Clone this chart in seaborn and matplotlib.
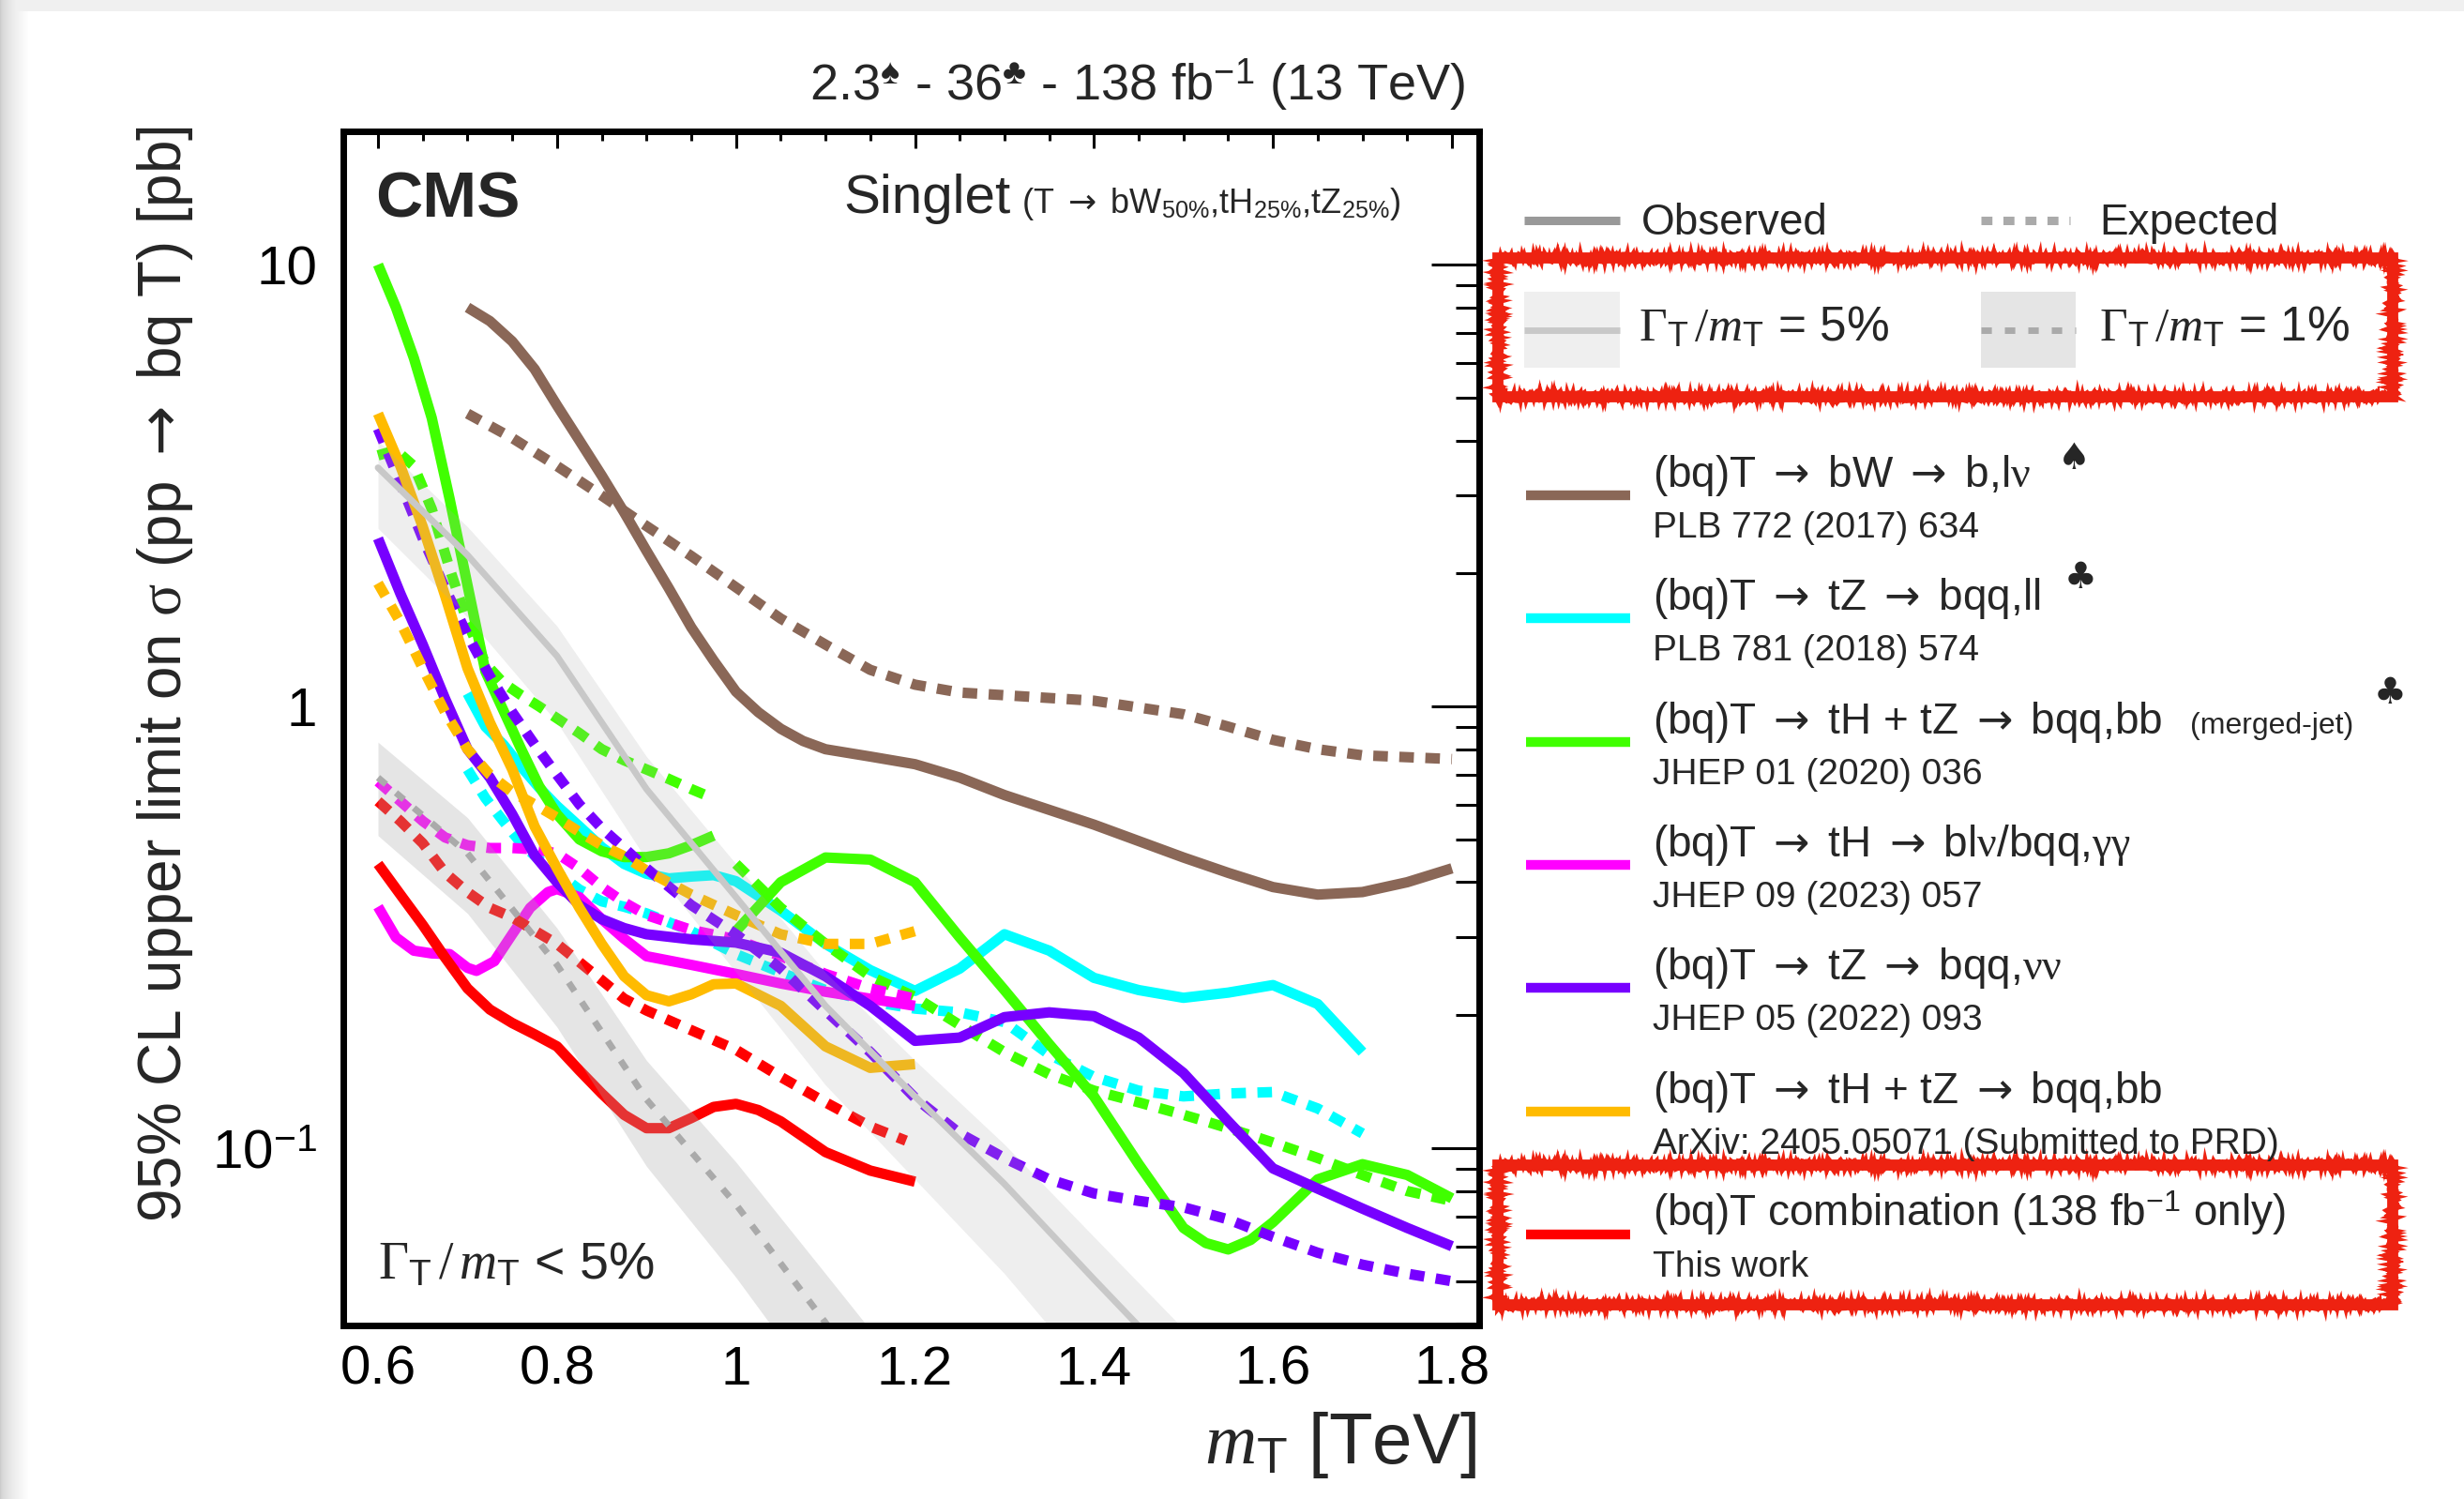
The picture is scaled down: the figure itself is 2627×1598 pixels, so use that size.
import numpy as np
import matplotlib
matplotlib.use("Agg")
import matplotlib.pyplot as plt
import seaborn as sns
from matplotlib.patches import Rectangle
from matplotlib.lines import Line2D
from matplotlib.transforms import Affine2D
from matplotlib.ticker import MultipleLocator, LogLocator, NullFormatter

# ---------------- limits on sigma(pp -> bq T) [pb] vs m_T [TeV] ----------------
# (bq)T -> bW -> b,l nu   (PLB 772 (2017) 634)
bw_obs_m = [0.70, 0.725, 0.75, 0.775, 0.80, 0.825, 0.85, 0.875, 0.90, 0.925, 0.95, 0.975, 1.00, 1.025, 1.05, 1.075, 1.10, 1.15, 1.20, 1.25, 1.30, 1.40, 1.50, 1.55, 1.60, 1.65, 1.70, 1.75, 1.80]
bw_obs = [8.0, 7.45, 6.7, 5.8, 4.8, 4.0, 3.33, 2.75, 2.25, 1.85, 1.51, 1.27, 1.08, 0.97, 0.89, 0.835, 0.80, 0.77, 0.74, 0.69, 0.63, 0.54, 0.455, 0.42, 0.39, 0.375, 0.38, 0.40, 0.43]
bw_exp_m = [0.70, 0.75, 0.80, 0.85, 0.90, 0.95, 1.00, 1.05, 1.10, 1.15, 1.20, 1.25, 1.30, 1.40, 1.50, 1.55, 1.60, 1.65, 1.70, 1.80]
bw_exp = [4.6, 4.05, 3.5, 3.0, 2.56, 2.19, 1.86, 1.58, 1.38, 1.21, 1.12, 1.075, 1.06, 1.03, 0.96, 0.90, 0.84, 0.80, 0.775, 0.76]

# (bq)T -> tZ -> bqq,ll   (PLB 781 (2018) 574)
tzll_obs_m = [0.70, 0.72, 0.74, 0.76, 0.78, 0.80, 0.825, 0.85, 0.875, 0.90, 0.925, 0.95, 0.975, 1.00, 1.05, 1.10, 1.15, 1.20, 1.25, 1.30, 1.35, 1.40, 1.45, 1.50, 1.55, 1.60, 1.65, 1.70]
tzll_obs = [1.07, 0.90, 0.82, 0.73, 0.655, 0.595, 0.535, 0.48, 0.44, 0.418, 0.408, 0.412, 0.415, 0.402, 0.345, 0.29, 0.253, 0.227, 0.255, 0.305, 0.28, 0.243, 0.228, 0.219, 0.225, 0.234, 0.212, 0.165]
tzll_exp_m = [0.70, 0.72, 0.74, 0.76, 0.78, 0.80, 0.825, 0.85, 0.875, 0.90, 0.95, 1.00, 1.05, 1.10, 1.15, 1.20, 1.25, 1.30, 1.35, 1.40, 1.45, 1.50, 1.55, 1.60, 1.65, 1.70]
tzll_exp = [0.72, 0.62, 0.55, 0.49, 0.45, 0.42, 0.385, 0.362, 0.352, 0.34, 0.31, 0.275, 0.25, 0.228, 0.215, 0.207, 0.203, 0.193, 0.163, 0.145, 0.135, 0.131, 0.133, 0.134, 0.123, 0.108]

# (bq)T -> tH + tZ -> bqq,bb merged-jet   (JHEP 01 (2020) 036), two mass ranges
mj_obs_lo_m = [0.60, 0.62, 0.64, 0.66, 0.68, 0.70, 0.72, 0.74, 0.76, 0.78, 0.80, 0.825, 0.85, 0.875, 0.90, 0.925, 0.95, 0.975]
mj_obs_lo = [10.0, 8.0, 6.15, 4.5, 2.95, 1.88, 1.2, 0.98, 0.80, 0.66, 0.57, 0.50, 0.47, 0.456, 0.456, 0.465, 0.485, 0.51]
mj_exp_lo_m = [0.60, 0.62, 0.64, 0.66, 0.68, 0.70, 0.72, 0.74, 0.76, 0.78, 0.80, 0.825, 0.85, 0.875, 0.90, 0.925, 0.95, 0.97]
mj_exp_lo = [3.7, 3.8, 3.5, 2.8, 2.05, 1.55, 1.25, 1.13, 1.06, 1.0, 0.94, 0.87, 0.80, 0.755, 0.72, 0.685, 0.65, 0.625]
mj_hi_m = [1.00, 1.05, 1.10, 1.15, 1.20, 1.25, 1.30, 1.35, 1.40, 1.45, 1.50, 1.525, 1.55, 1.575, 1.60, 1.65, 1.70, 1.75, 1.80]
mj_obs_hi = [0.31, 0.40, 0.455, 0.45, 0.40, 0.30, 0.228, 0.172, 0.131, 0.092, 0.066, 0.061, 0.059, 0.062, 0.068, 0.085, 0.092, 0.087, 0.077]
mj_exp_hi = [0.44, 0.35, 0.29, 0.245, 0.22, 0.19, 0.165, 0.147, 0.135, 0.127, 0.119, 0.115, 0.111, 0.107, 0.103, 0.095, 0.087, 0.080, 0.076]

# (bq)T -> tH -> blnu/bqq,gamma gamma   (JHEP 09 (2023) 057)
thgg_obs_m = [0.60, 0.62, 0.64, 0.66, 0.68, 0.70, 0.71, 0.73, 0.75, 0.77, 0.79, 0.80, 0.825, 0.85, 0.875, 0.90, 0.95, 1.00, 1.05, 1.10, 1.15, 1.20]
thgg_obs = [0.352, 0.30, 0.28, 0.276, 0.275, 0.256, 0.252, 0.265, 0.305, 0.35, 0.38, 0.386, 0.37, 0.33, 0.298, 0.272, 0.26, 0.248, 0.236, 0.226, 0.218, 0.21]
thgg_exp_m = [0.60, 0.625, 0.65, 0.675, 0.70, 0.725, 0.75, 0.775, 0.80, 0.825, 0.85, 0.875, 0.90, 0.95, 1.00, 1.05, 1.10, 1.15, 1.20]
thgg_exp = [0.676, 0.61, 0.55, 0.505, 0.485, 0.478, 0.478, 0.475, 0.465, 0.43, 0.39, 0.36, 0.337, 0.312, 0.297, 0.272, 0.248, 0.23, 0.218]

# (bq)T -> tZ -> bqq,nu nu   (JHEP 05 (2022) 093)
tznn_m = [0.60, 0.625, 0.65, 0.675, 0.70, 0.725, 0.75, 0.775, 0.80, 0.825, 0.85, 0.875, 0.90, 0.95, 1.00, 1.05, 1.10, 1.15, 1.20, 1.25, 1.30, 1.35, 1.40, 1.45, 1.50, 1.55, 1.60, 1.65, 1.70, 1.75, 1.80]
tznn_obs = [2.4, 1.8, 1.38, 1.04, 0.80, 0.69, 0.57, 0.46, 0.40, 0.355, 0.33, 0.315, 0.305, 0.297, 0.292, 0.277, 0.245, 0.21, 0.175, 0.178, 0.198, 0.203, 0.199, 0.178, 0.148, 0.115, 0.09, 0.081, 0.073, 0.066, 0.06]
tznn_exp = [4.25, 3.2, 2.4, 1.85, 1.45, 1.17, 0.97, 0.82, 0.70, 0.60, 0.53, 0.478, 0.43, 0.355, 0.305, 0.255, 0.205, 0.165, 0.13, 0.108, 0.095, 0.085, 0.079, 0.076, 0.0735, 0.069, 0.063, 0.058, 0.0545, 0.052, 0.050]

# (bq)T -> tH + tZ -> bqq,bb   (ArXiv: 2405.05071)
thbb_obs_m = [0.60, 0.625, 0.65, 0.675, 0.70, 0.725, 0.75, 0.775, 0.80, 0.825, 0.85, 0.875, 0.90, 0.925, 0.95, 0.975, 1.00, 1.05, 1.10, 1.15, 1.20]
thbb_obs = [4.6, 3.5, 2.55, 1.78, 1.22, 0.92, 0.72, 0.535, 0.43, 0.35, 0.29, 0.245, 0.222, 0.215, 0.223, 0.235, 0.236, 0.21, 0.17, 0.152, 0.155]
thbb_exp_m = [0.60, 0.625, 0.65, 0.675, 0.70, 0.725, 0.75, 0.775, 0.80, 0.825, 0.85, 0.875, 0.90, 0.95, 1.00, 1.05, 1.10, 1.15, 1.20]
thbb_exp = [1.9, 1.55, 1.22, 0.97, 0.80, 0.70, 0.64, 0.60, 0.56, 0.52, 0.485, 0.458, 0.425, 0.375, 0.337, 0.305, 0.29, 0.29, 0.31]

# (bq)T combination, 138 fb^-1
comb_obs_m = [0.60, 0.625, 0.65, 0.675, 0.70, 0.725, 0.75, 0.775, 0.80, 0.825, 0.85, 0.875, 0.90, 0.925, 0.95, 0.975, 1.00, 1.025, 1.05, 1.10, 1.15, 1.20]
comb_obs = [0.44, 0.375, 0.32, 0.27, 0.23, 0.206, 0.192, 0.181, 0.17, 0.15, 0.133, 0.119, 0.111, 0.111, 0.117, 0.124, 0.126, 0.122, 0.115, 0.098, 0.089, 0.084]
comb_exp_m = [0.60, 0.625, 0.65, 0.675, 0.70, 0.725, 0.75, 0.80, 0.85, 0.875, 0.90, 0.95, 1.00, 1.05, 1.10, 1.15, 1.19]
comb_exp = [0.61, 0.55, 0.49, 0.42, 0.38, 0.35, 0.333, 0.29, 0.24, 0.218, 0.205, 0.185, 0.167, 0.145, 0.127, 0.112, 0.104]

# theory cross sections, Gamma_T/m_T = 5% and 1%
xs5_m = [0.60, 0.70, 0.80, 0.90, 1.00, 1.10, 1.20, 1.30, 1.40, 1.50]
xs5 = [3.47, 2.2, 1.3, 0.65, 0.37, 0.21, 0.131, 0.083, 0.0505, 0.031]
xs5_hi = [3.99, 2.55, 1.52, 0.77, 0.44, 0.25, 0.158, 0.102, 0.063, 0.039]
xs5_lo = [2.53, 1.59, 0.92, 0.45, 0.25, 0.139, 0.085, 0.052, 0.030, 0.018]
xs1_m = [0.60, 0.70, 0.80, 0.90, 1.00, 1.10, 1.20]
xs1 = [0.69, 0.465, 0.26, 0.129, 0.0746, 0.0403, 0.0217]
xs1_hi = [0.83, 0.56, 0.315, 0.158, 0.093, 0.052, 0.029]
xs1_lo = [0.51, 0.34, 0.188, 0.091, 0.051, 0.027, 0.014]

x_ticks = [0.6, 0.8, 1.0, 1.2, 1.4, 1.6, 1.8]
x_ticklabels = ["0.6", "0.8", "1", "1.2", "1.4", "1.6", "1.8"]
y_ticks = [0.1, 1, 10]
y_ticklabels = [r"10$^{\mathsf{-1}}$", "1", "10"]

# ---------------- style ----------------
C_BROWN = "#8a6757"
C_CYAN = "#00ffff"
C_GREEN = "#40ff00"
C_MAGENTA = "#ff00ff"
C_PURPLE = "#7700ff"
C_ORANGE = "#ffbb00"
C_RED = "#ff0000"
C_BOX = "#ee2211"

sns.set_theme(style="white")
plt.rcParams["font.family"] = ["Liberation Sans", "DejaVu Sans"]
plt.rcParams["mathtext.fontset"] = "custom"
plt.rcParams["mathtext.rm"] = "Liberation Serif"
plt.rcParams["mathtext.it"] = "Liberation Serif:italic"
plt.rcParams["mathtext.sf"] = "Liberation Sans"
plt.rcParams["mathtext.bf"] = "Liberation Sans:bold"
plt.rcParams["mathtext.tt"] = "DejaVu Sans"
plt.rcParams["axes.unicode_minus"] = True

ARROW = r"$\mathtt{\rightarrow}$"

W, H = 2627, 1598
fig = plt.figure(figsize=(W / 100, H / 100), dpi=100, facecolor="white")
PX = Affine2D().scale(1.0 / W, -1.0 / H).translate(0, 1) + fig.transFigure

# page shadow along the top and left edges
bg = fig.add_axes([0, 0, 1, 1], zorder=-10)
shade = np.ones((H, W))
shade[:12, :] = 0.94
cols = np.arange(32)
grad = 0.80 + 0.20 * (cols / 31.0) ** 0.6
shade[:, :32] = np.minimum(shade[:, :32], grad[None, :])
bg.imshow(shade, cmap="gray", vmin=0, vmax=1, aspect="auto", interpolation="nearest")
bg.axis("off")

ax = fig.add_axes([366 / W, 1 - 1413 / H, (1577 - 366) / W, (1413 - 140) / H])
ax.set_facecolor("white")
ax.set_yscale("log")
ax.set_xlim(0.5612, 1.8304)
ax.set_ylim(0.0397, 20.03)

LW = 8
DOT = (0, (1.4, 1.1))

series = [
    (bw_obs_m, bw_obs, C_BROWN, "-"), (bw_exp_m, bw_exp, C_BROWN, DOT),
    (tzll_obs_m, tzll_obs, C_CYAN, "-"), (tzll_exp_m, tzll_exp, C_CYAN, DOT),
    (mj_obs_lo_m, mj_obs_lo, C_GREEN, "-"), (mj_exp_lo_m, mj_exp_lo, C_GREEN, DOT),
    (mj_hi_m, mj_obs_hi, C_GREEN, "-"), (mj_hi_m, mj_exp_hi, C_GREEN, DOT),
    (thgg_obs_m, thgg_obs, C_MAGENTA, "-"), (thgg_exp_m, thgg_exp, C_MAGENTA, DOT),
    (tznn_m, tznn_obs, C_PURPLE, "-"), (tznn_m, tznn_exp, C_PURPLE, DOT),
    (thbb_obs_m, thbb_obs, C_ORANGE, "-"), (thbb_exp_m, thbb_exp, C_ORANGE, DOT),
    (comb_obs_m, comb_obs, C_RED, "-"), (comb_exp_m, comb_exp, C_RED, DOT),
]
for xm, yv, col, ls in series:
    sns.lineplot(x=xm, y=yv, ax=ax, color=col, lw=LW, linestyle=ls,
                 estimator=None, sort=False, legend=False, zorder=2,
                 solid_joinstyle="round", solid_capstyle="butt")

# theory bands drawn over the limits, semi-transparent
ax.fill_between(xs5_m, xs5_lo, xs5_hi, color="#aaaaaa", alpha=0.2, lw=0, zorder=3)
ax.fill_between(xs1_m, xs1_lo, xs1_hi, color="#aaaaaa", alpha=0.3, lw=0, zorder=3)
sns.lineplot(x=xs5_m, y=xs5, ax=ax, color="#c8c8c8", lw=5, estimator=None,
             sort=False, legend=False, zorder=4)
sns.lineplot(x=xs1_m, y=xs1, ax=ax, color="#aaaaaa", lw=5, linestyle=(0, (1.6, 2.0)),
             estimator=None, sort=False, legend=False, zorder=4)

ax.set_xlabel("")
ax.set_ylabel("")
ax.set_xticks(x_ticks, labels=x_ticklabels)
ax.xaxis.set_minor_locator(MultipleLocator(0.05))
ax.set_yticks(y_ticks, labels=y_ticklabels)
ax.yaxis.set_minor_locator(LogLocator(base=10, subs=np.arange(2, 10)))
ax.yaxis.set_minor_formatter(NullFormatter())
ax.tick_params(which="both", direction="in", top=True, right=True, color="black",
               width=2.2, labelsize=42, labelcolor="black")
ax.tick_params(axis="x", which="major", length=13, pad=15)
ax.tick_params(axis="x", which="minor", length=7)
ax.tick_params(axis="y", which="major", length=37, pad=20)
ax.tick_params(axis="y", which="minor", length=18)
for sp in ax.spines.values():
    sp.set_linewidth(5)
    sp.set_color("black")
    sp.set_zorder(10)

# in-frame texts
fig.text(400, 232, "CMS", transform=PX, fontsize=50, fontweight="bold", va="baseline")
fig.text(899, 227, "Singlet", transform=PX, fontsize=42, va="baseline")
fig.text(1089, 227, "(T " + ARROW + r" bW$_{\mathsf{50\%}}$,tH$_{\mathsf{25\%}}$,tZ$_{\mathsf{25\%}}$)",
         transform=PX, fontsize=26, va="baseline")
fig.text(403, 1363, r"$\Gamma_{\mathsf{T}}\,/\,m_{\mathsf{T}}$ < 5%", transform=PX,
         fontsize=40, va="baseline")

# top label, axis titles
fig.text(1563, 107, r"2.3$^{\spadesuit}$ - 36$^{\clubsuit}$ - 138 fb$^{\mathsf{-1}}$ (13 TeV)",
         transform=PX, fontsize=39, ha="right", va="baseline")
fig.text(1574, 1560, r"$m_{\mathsf{T}}$ [TeV]", transform=PX, fontsize=55,
         ha="right", va="baseline")
fig.text(176, 134, r"95% CL upper limit on $\mathrm{\sigma}$ (pp " + ARROW + " bq T) [pb]",
         transform=PX, fontsize=46, rotation=90, ha="center", va="top")

# ---------------- legend ----------------
def leg_line(x0, x1, y, color, lw=7, ls="-"):
    fig.add_artist(Line2D([x0, x1], [y, y], transform=PX, color=color, lw=lw,
                          linestyle=ls, solid_capstyle="butt"))

leg_line(1625, 1727, 235, "#999999", lw=6.5)
fig.text(1750, 250, "Observed", transform=PX, fontsize=33, va="baseline")
leg_line(2112, 2207, 235, "#aaaaaa", lw=6.5, ls=(0, (1.3, 1.3)))
fig.text(2238, 250, "Expected", transform=PX, fontsize=33, va="baseline")

fig.add_artist(Rectangle((1625, 311), 102, 81, transform=PX, color="#efefef", lw=0))
leg_line(1625, 1727, 352, "#c8c8c8", lw=5)
fig.text(1747, 363, r"$\Gamma_{\mathsf{T}}\,/m_{\mathsf{T}}$ = 5%", transform=PX,
         fontsize=37, va="baseline")
fig.add_artist(Rectangle((2112, 311), 101, 81, transform=PX, color="#e5e5e5", lw=0))
leg_line(2112, 2213, 352, "#aaaaaa", lw=5, ls=(0, (1.6, 2.0)))
fig.text(2238, 363, r"$\Gamma_{\mathsf{T}}\,/m_{\mathsf{T}}$ = 1%", transform=PX,
         fontsize=37, va="baseline")

A = " " + ARROW + " "
entries = [
    (C_BROWN, "(bq)T" + A + "bW" + A + r"b,l$\mathrm{\nu}$", "PLB 772 (2017) 634"),
    (C_CYAN, "(bq)T" + A + "tZ" + A + "bqq,ll", "PLB 781 (2018) 574"),
    (C_GREEN, "(bq)T" + A + "tH + tZ" + A + "bqq,bb", "JHEP 01 (2020) 036"),
    (C_MAGENTA, "(bq)T" + A + "tH" + A + r"bl$\mathrm{\nu}$/bqq,$\mathrm{\gamma\gamma}$", "JHEP 09 (2023) 057"),
    (C_PURPLE, "(bq)T" + A + "tZ" + A + r"bqq,$\mathrm{\nu\nu}$", "JHEP 05 (2022) 093"),
    (C_ORANGE, "(bq)T" + A + "tH + tZ" + A + "bqq,bb", "ArXiv: 2405.05071 (Submitted to PRD)"),
    (C_RED, r"(bq)T combination (138 fb$^{\mathsf{-1}}$ only)", "This work"),
]
for i, (col, main, sub) in enumerate(entries):
    yl = 528 + 131.3 * i
    leg_line(1627, 1738, yl, col, lw=7.5)
    fig.text(1762, yl - 9, main, transform=PX, fontsize=33, va="baseline")
    fig.text(1762, yl + 45, sub, transform=PX, fontsize=28, va="baseline")

fig.text(2335, 528 + 131.3 * 2 - 9, "(merged-jet)", transform=PX, fontsize=23, va="baseline")
fig.text(2194, 500, "\u2660", transform=PX, fontsize=28, va="baseline", family="DejaVu Sans")
fig.text(2201, 627, "\u2663", transform=PX, fontsize=28, va="baseline", family="DejaVu Sans")
fig.text(2531, 750, "\u2663", transform=PX, fontsize=28, va="baseline", family="DejaVu Sans")

# hand-drawn highlight boxes: a solid marker stroke plus a ragged edge
for (x0, y0, x1, y1) in [(1597, 275, 2551, 423), (1597, 1242, 2551, 1391)]:
    base = Rectangle((x0, y0), x1 - x0, y1 - y0, transform=PX, fill=False,
                     edgecolor=C_BOX, lw=8.5, joinstyle="miter")
    fig.add_artist(base)
    rough = Rectangle((x0, y0), x1 - x0, y1 - y0, transform=PX, fill=False,
                      edgecolor=C_BOX, lw=4, joinstyle="miter")
    rough.set_sketch_params(scale=4, length=3, randomness=3)
    fig.add_artist(rough)

fig.savefig("out.png", dpi=100, facecolor="white")
